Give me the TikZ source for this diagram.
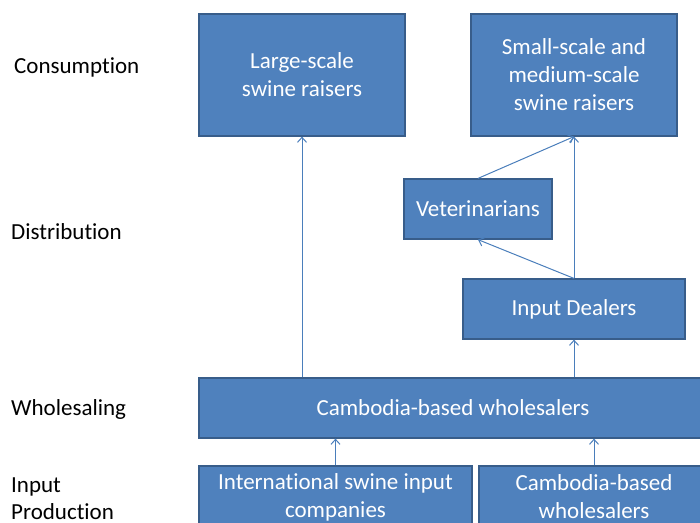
\documentclass[tikz,border=0pt]{standalone}
\usepackage{fontspec}
\setmainfont[Ligatures=NoCommon]{Carlito}
\usepackage{xcolor}
\usepackage{tikz}
\usetikzlibrary{arrows.meta,positioning}
\definecolor{swinefill}{RGB}{79,129,189}
\definecolor{swinedraw}{RGB}{56,93,138}
\definecolor{swineline}{RGB}{74,126,187}

\begin{document}
\begin{tikzpicture}[
    x=1pt, y=-1pt,
    actor/.style={rectangle, draw=swinedraw, line width=1.2pt, fill=swinefill, inner sep=0pt, align=center, text=white, font=\fontsize{23}{28}\selectfont},
    stage/.style={anchor=west, align=left, inner sep=0pt, font=\fontsize{23}{27}\selectfont},
    flow/.style={-{Straight Barb[length=5pt,width=9pt]}, draw=swineline, line width=1pt}
]
    \useasboundingbox (0,0) rectangle (700,522);
    \clip (0,0) rectangle (700,522);

    % Stage labels
    \node[stage] (consumption) at (14,67) {Consumption};
    \node[stage] (distribution) at (11,232) {Distribution};
    \node[stage] (wholesaling) at (11,409) {Wholesaling};
    \node[stage] (inputprod) at (11,499) {Input\\Production};

    % Consumption
    \node[actor, minimum width=206, minimum height=122] (large) at (302,75) {Large-scale\\swine raisers};
    \node[actor, minimum width=206, minimum height=122] (small) at (574,75) {Small-scale and\\medium-scale\\swine raisers};

    % Distribution
    \node[actor, minimum width=148, minimum height=60] (vets) at (478,209) {Veterinarians};
    \node[actor, minimum width=222, minimum height=60] (dealers) at (574,309) {Input Dealers};

    % Wholesaling
    \node[actor, minimum width=508, minimum height=60] (wholesale) at (453,408) {Cambodia-based wholesalers};

    % Input production
    \node[actor, minimum width=273, minimum height=62] (intl) at (335.5,497) {International swine input\\companies};
    \node[actor, minimum width=230, minimum height=62] (cambin) at (594,497) {Cambodia-based\\wholesalers};

    % Connections
    \draw[flow] (intl.north) -- (intl.north |- wholesale.south);
    \draw[flow] (cambin.north) -- (cambin.north |- wholesale.south);
    \draw[flow] (large.south |- wholesale.north) -- (large.south);
    \draw[flow] (dealers.south |- wholesale.north) -- (dealers.south);
    \draw[flow] (dealers.north) -- (small.south);
    \draw[flow] (dealers.north) -- (vets.south);
    \draw[flow] (vets.north) -- (small.south);
\end{tikzpicture}
\end{document}
